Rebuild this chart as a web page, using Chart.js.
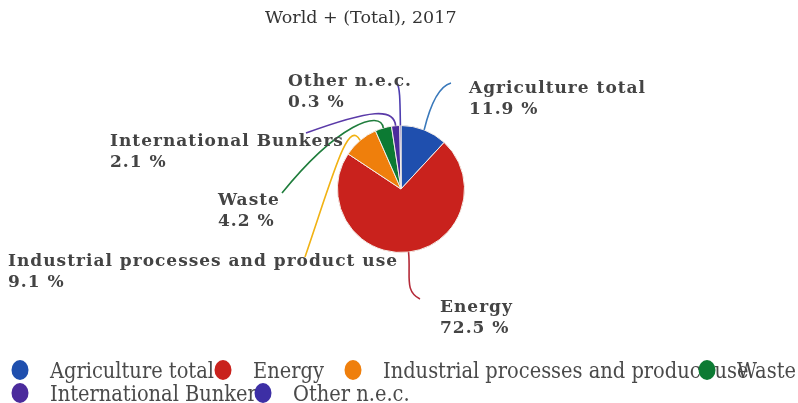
<!DOCTYPE html>
<html>
<head>
<meta charset="utf-8">
<script src="https://cdn.jsdelivr.net/npm/chart.js@4/dist/chart.umd.min.js"></script>
<style>
  html, body { margin: 0; padding: 0; background: #fff; }
  #wrap { width: 798px; height: 403px; position: relative; }
</style>
</head>
<body>
<div id="wrap"><canvas id="chart"></canvas></div>
<script>
const title = 'World + (Total), 2017'
const categories = ['Agriculture total', 'Energy', 'Industrial processes and product use', 'Waste', 'International Bunkers', 'Other n.e.c.']
const shares = [11.9, 72.5, 9.1, 4.2, 2.1, 0.3]
const sliceColors = ['#1f4fae', '#c9221d', '#ef7f0c', '#0c7a33', '#4b2b9c', '#3d2fa5']
const leaderColors = ['#3a79bb', '#b42a38', '#f1b213', '#1f7d3c', '#5a3aa8', '#4e3eb0']

// label placement: [left, first baseline], then leader curve: cp1, cp2, end
const labelPos = [[469, 93], [440, 312], [8, 266], [218, 205], [110, 146], [288, 86]]
const leaderCurves = [
  [[431, 102], [440, 86], [451, 83]],
  [[411, 276], [404, 291], [420, 299]],
  [[348, 118], [334, 172], [305, 257]],
  [[381, 109], [338, 124], [282, 193]],
  [[394, 108], [372, 109], [306, 133]],
  [[400, 100], [400, 88], [397, 83]]
]
// legend: [x of marker, row]
const legendPos = [[20, 0], [223, 0], [353, 0], [707, 0], [20, 1], [263, 1]]

const overlay = {
  id: 'overlay',
  afterDatasetsDraw(chart) {
    const ctx = chart.ctx
    const arcs = chart.getDatasetMeta(0).data
    ctx.save()

    // title
    ctx.fillStyle = '#333'
    ctx.font = '17.5px "DejaVu Serif"'
    ctx.textBaseline = 'alphabetic'
    ctx.textAlign = 'left'
    ctx.fillText(title, 265, 23)

    // leader lines
    arcs.forEach((arc, i) => {
      const mid = (arc.startAngle + arc.endAngle) / 2
      const sx = arc.x + Math.cos(mid) * arc.outerRadius
      const sy = arc.y + Math.sin(mid) * arc.outerRadius
      const [c1, c2, e] = leaderCurves[i]
      ctx.beginPath()
      ctx.moveTo(sx, sy)
      ctx.bezierCurveTo(c1[0], c1[1], c2[0], c2[1], e[0], e[1])
      ctx.strokeStyle = leaderColors[i]
      ctx.lineWidth = 1.6
      ctx.stroke()
    })

    // slice labels
    ctx.fillStyle = '#444'
    ctx.font = 'bold 17px "DejaVu Serif"'
    ctx.letterSpacing = '1px'
    categories.forEach((name, i) => {
      const [x, y] = labelPos[i]
      ctx.fillText(name, x, y)
      ctx.fillText(shares[i] + ' %', x, y + 21)
    })
    ctx.letterSpacing = '0px'

    // legend
    ctx.font = '21.6px "DejaVu Serif Condensed", "DejaVu Serif"'
    categories.forEach((name, i) => {
      const [x, row] = legendPos[i]
      const cy = 370 + row * 23
      ctx.beginPath()
      ctx.ellipse(x, cy, 8.5, 10, 0, 0, Math.PI * 2)
      ctx.fillStyle = sliceColors[i]
      ctx.fill()
      ctx.fillStyle = '#4a4a4a'
      ctx.fillText(name, x + 30, cy + 8)
    })
    ctx.restore()
  }
}

new Chart(document.getElementById('chart'), {
  type: 'pie',
  data: {
    labels: categories,
    datasets: [{
      data: shares,
      backgroundColor: sliceColors,
      borderColor: '#f4eee8',
      borderWidth: 1
    }]
  },
  options: {
    responsive: true,
    maintainAspectRatio: false,
    animation: false,
    layout: { padding: { top: 125, bottom: 150, left: 337, right: 333 } },
    plugins: {
      legend: { display: false },
      tooltip: { enabled: false },
      title: { display: false }
    }
  },
  plugins: [overlay]
})
</script>
</body>
</html>
